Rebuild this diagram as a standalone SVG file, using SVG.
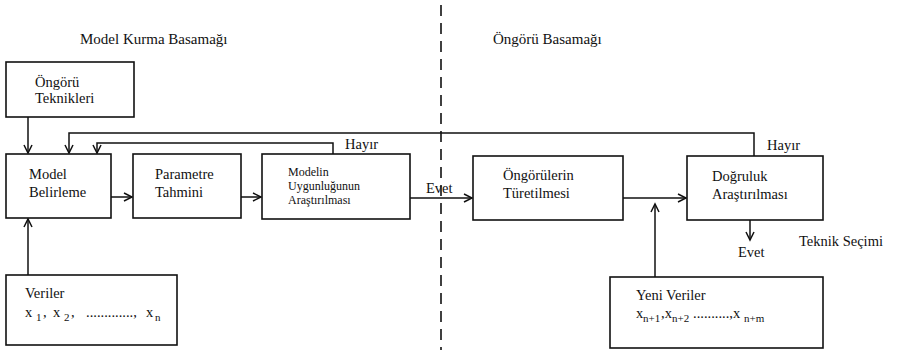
<svg xmlns="http://www.w3.org/2000/svg" width="900" height="350" viewBox="0 0 900 350">
<defs>
<marker id="arr" markerUnits="userSpaceOnUse" markerWidth="12" markerHeight="12" refX="9" refY="5" orient="auto">
<path d="M1,1 L9,5 L1,9" fill="none" stroke="#111" stroke-width="1.5"/>
</marker>
<style>
text{font-family:'Liberation Serif','Times New Roman',serif;font-size:14.5px;fill:#111}
.title{font-size:15px}
.small{font-size:12px}
.box{fill:#fff;stroke:#111;stroke-width:1.6}
.ln{fill:none;stroke:#111;stroke-width:1.5}
.sub{font-size:11px}
</style>
</defs>
<rect width="900" height="350" fill="#fff"/>
<g font-family="'Liberation Serif', 'Times New Roman', serif">
<text class="title" x="80" y="44">Model Kurma Basamağı</text>
<text class="title" x="493" y="44">Öngörü Basamağı</text>
<line x1="441" y1="5" x2="441" y2="350" stroke="#111" stroke-width="1.6" stroke-dasharray="11,7"/>
<g id="connectors">
<path class="ln" d="M28,117 V153" marker-end="url(#arr)"/>
<path class="ln" d="M754,156 V133 H69 V153" marker-end="url(#arr)"/>
<path class="ln" d="M333,154 V143 H97 V153" marker-end="url(#arr)"/>
<path class="ln" d="M111,197 H132" marker-end="url(#arr)"/>
<path class="ln" d="M241,197 H261" marker-end="url(#arr)"/>
<path class="ln" d="M410,198 H472" marker-end="url(#arr)"/>
<path class="ln" d="M623,198 H686" marker-end="url(#arr)"/>
<path class="ln" d="M655,277 V204" marker-end="url(#arr)"/>
<path class="ln" d="M750,220 V240" marker-end="url(#arr)"/>
<path class="ln" d="M28,275 V219" marker-end="url(#arr)"/>
<text x="345" y="149">Hayır</text>
<text x="767" y="150">Hayır</text>
<text x="426" y="193">Evet</text>
<text x="738" y="257">Evet</text>
<text x="799" y="246">Teknik Seçimi</text>
</g>
<g id="ongoru-teknikleri">
<rect class="box" x="6" y="62" width="128" height="55"/>
<text x="35" y="87">Öngörü</text>
<text x="35" y="103">Teknikleri</text>
</g>
<g id="model-belirleme">
<rect class="box" x="6" y="154" width="105" height="64"/>
<text x="29" y="179">Model</text>
<text x="29" y="197">Belirleme</text>
</g>
<g id="parametre-tahmini">
<rect class="box" x="133" y="154" width="108" height="64"/>
<text x="155" y="179">Parametre</text>
<text x="155" y="197">Tahmini</text>
</g>
<g id="modelin-uygunlugu">
<rect class="box" x="262" y="154" width="148" height="65"/>
<text class="small" x="288" y="176">Modelin</text>
<text class="small" x="288" y="190">Uygunluğunun</text>
<text class="small" x="288" y="204">Araştırılması</text>
</g>
<g id="ongorulerin-turetilmesi">
<rect class="box" x="473" y="156" width="150" height="64"/>
<text x="503" y="180">Öngörülerin</text>
<text x="503" y="198">Türetilmesi</text>
</g>
<g id="dogruluk-arastirilmasi">
<rect class="box" x="687" y="156" width="136" height="64"/>
<text x="712" y="181">Doğruluk</text>
<text x="712" y="199">Araştırılması</text>
</g>
<g id="veriler">
<rect class="box" x="6" y="275" width="171" height="70"/>
<text x="25" y="298">Veriler</text>
<text y="317"><tspan x="25">x</tspan><tspan class="sub" x="36" dy="4">1</tspan><tspan x="43" dy="-4">,</tspan><tspan x="53">x</tspan><tspan class="sub" x="64" dy="4">2</tspan><tspan x="71" dy="-4">,</tspan><tspan x="86">.............,</tspan><tspan x="146">x</tspan><tspan class="sub" x="155" dy="4">n</tspan></text>
</g>
<g id="yeni-veriler">
<rect class="box" x="610" y="277" width="213" height="71"/>
<text x="636" y="300">Yeni Veriler</text>
<text y="318"><tspan x="636">x</tspan><tspan class="sub" x="643" dy="4">n+1</tspan><tspan x="661" dy="-4">,x</tspan><tspan class="sub" x="672" dy="4">n+2</tspan><tspan x="693" dy="-4">..........,x</tspan><tspan class="sub" x="744" dy="4">n+m</tspan></text>
</g>
</g>
</svg>
